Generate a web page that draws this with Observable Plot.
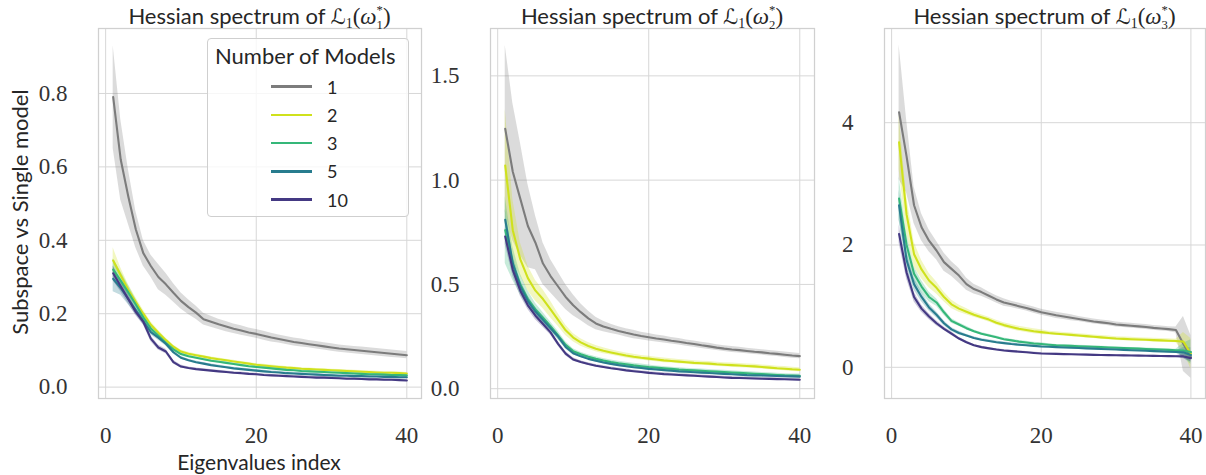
<!DOCTYPE html>
<html>
<head>
<meta charset="utf-8">
<script src="https://cdn.jsdelivr.net/npm/d3@7"></script>
<script src="https://cdn.jsdelivr.net/npm/@observablehq/plot@0.6"></script>
<style>
  html, body { margin: 0; padding: 0; background: #fff; }
  #wrap { position: relative; width: 1206px; height: 475px; overflow: hidden; background: #fff; }
  .panel { position: absolute; top: 0; }
  .title { position: absolute; top: 3px; transform: translateX(-50%); font: 22px Lato, sans-serif; color: #262626; white-space: nowrap; line-height: 1; }
  .m { font-family: "Liberation Serif", serif; font-size: 23px; }
  .cal { font-family: "DejaVu Serif", "DejaVu Sans", serif; font-style: italic; font-size: 21px; }
  .w { font-style: italic; }
  .sb { font-size: 0.6em; vertical-align: -0.3em; line-height: 1.15; }
  .ss { display: inline-block; font-size: 0.55em; line-height: 1.15; vertical-align: -0.4em; }
  .ss span { display: block; }
  .ylab { position: absolute; left: 19px; top: 212px; transform: translate(-50%, -50%) rotate(-90deg); font: 22px Lato, sans-serif; color: #262626; white-space: nowrap; }
  .xlab { position: absolute; left: 259px; top: 450.5px; transform: translateX(-50%); font: 21px Lato, sans-serif; color: #262626; white-space: nowrap; line-height: 1; }
  .legend { position: absolute; left: 207px; top: 38px; width: 202px; height: 179px; border: 1px solid #cfcfcf; border-radius: 4px; background: rgba(255,255,255,0.8); box-sizing: border-box; }
  .legtitle { position: absolute; left: 215px; top: 45px; font: 22px Lato, sans-serif; color: #262626; line-height: 1; white-space: nowrap; }
  .legsw { position: absolute; left: 271px; width: 41px; height: 2.5px; }
  .leglab { position: absolute; left: 327px; font: 18px Lato, sans-serif; color: #262626; line-height: 1; }
</style>
</head>
<body>
<div id="wrap"></div>
<script>
// ---------- data ----------
const eigIndex = [1,2,3,4,5,6,7,8,9,10,11,12,13,14,15,16,17,18,19,20,21,22,23,24,25,26,27,28,29,30,31,32,33,34,35,36,37,38,39,40];
const seriesN = [1, 2, 3, 5, 10];
const seriesColors = ["#7c7c7c", "#cfe11c", "#35b779", "#287c8e", "#443983"];
const panelTitlesSub = ["1", "2", "3"];
const xTicks = [0, 20, 40];
const yTicks1 = [0, 0.2, 0.4, 0.6, 0.8];
const yTicks2 = [0, 0.5, 1.0, 1.5];
const yTicks3 = [0, 2, 4];

// Panel 1: Hessian spectrum of L1(w1*)
const h1_n1 = [0.79,0.62,0.52,0.43,0.365,0.33,0.30,0.28,0.257,0.235, 0.218,0.203,0.185,0.178,0.171,0.165,0.159,0.154,0.149,0.145, 0.140,0.135,0.131,0.127,0.123,0.120,0.117,0.114,0.111,0.108, 0.105,0.103,0.101,0.099,0.097,0.095,0.093,0.091,0.089,0.087];
const h1_n1_ci = [0.14,0.11,0.075,0.05,0.035,0.03,0.035,0.03,0.025,0.022, 0.02,0.018,0.016,0.015,0.014,0.014,0.013,0.013,0.012,0.012, 0.012,0.012,0.011,0.011,0.011,0.011,0.010,0.010,0.010,0.010, 0.010,0.010,0.010,0.010,0.010,0.010,0.010,0.010,0.010,0.010];
const h1_n2 = [0.345,0.305,0.265,0.232,0.2,0.17,0.148,0.128,0.11,0.097, 0.091,0.087,0.083,0.079,0.076,0.073,0.070,0.067,0.064,0.061, 0.059,0.057,0.055,0.053,0.052,0.050,0.049,0.048,0.047,0.046, 0.045,0.044,0.043,0.042,0.041,0.040,0.039,0.039,0.038,0.037];
const h1_n2_ci = [0.035,0.02,0.015,0.012,0.01,0.008,0.007,0.006,0.005,0.004, 0.004,0.003,0.003,0.003,0.003,0.003,0.003,0.003,0.003,0.003, 0.003,0.003,0.003,0.003,0.003,0.003,0.003,0.003,0.003,0.003, 0.003,0.003,0.003,0.003,0.003,0.003,0.003,0.003,0.003,0.003];
const h1_n3 = [0.32,0.29,0.258,0.225,0.19,0.16,0.14,0.12,0.103,0.09, 0.084,0.080,0.076,0.072,0.069,0.066,0.063,0.060,0.057,0.055, 0.053,0.051,0.049,0.047,0.046,0.044,0.043,0.042,0.041,0.040, 0.039,0.038,0.037,0.036,0.035,0.035,0.034,0.033,0.033,0.032];
const h1_n3_ci = [0.03,0.025,0.02,0.015,0.012,0.01,0.008,0.006,0.005,0.004, 0.003,0.003,0.003,0.003,0.003,0.003,0.003,0.003,0.003,0.003, 0.003,0.003,0.003,0.003,0.003,0.003,0.003,0.003,0.003,0.003, 0.003,0.003,0.003,0.003,0.003,0.003,0.003,0.003,0.003,0.003];
const h1_n5 = [0.295,0.27,0.24,0.21,0.18,0.15,0.135,0.118,0.095,0.08, 0.073,0.068,0.064,0.060,0.057,0.054,0.051,0.049,0.047,0.045, 0.043,0.041,0.040,0.038,0.037,0.036,0.035,0.034,0.033,0.032, 0.031,0.031,0.030,0.030,0.029,0.029,0.028,0.028,0.027,0.027];
const h1_n5_ci = [0.035,0.02,0.015,0.012,0.01,0.008,0.007,0.006,0.005,0.004, 0.003,0.003,0.003,0.003,0.003,0.003,0.003,0.003,0.003,0.003, 0.003,0.003,0.003,0.003,0.003,0.003,0.003,0.003,0.003,0.003, 0.003,0.003,0.003,0.003,0.003,0.003,0.003,0.003,0.003,0.003];
const h1_n10 = [0.31,0.275,0.24,0.205,0.178,0.132,0.108,0.097,0.068,0.056, 0.052,0.049,0.047,0.045,0.043,0.041,0.039,0.038,0.036,0.035, 0.033,0.032,0.031,0.030,0.029,0.028,0.027,0.026,0.026,0.025, 0.024,0.023,0.023,0.022,0.021,0.021,0.020,0.020,0.019,0.018];
const h1_n10_ci = [0.02,0.015,0.012,0.01,0.008,0.008,0.007,0.006,0.005,0.004, 0.003,0.003,0.003,0.003,0.003,0.003,0.003,0.003,0.003,0.003, 0.003,0.003,0.003,0.003,0.003,0.003,0.003,0.003,0.003,0.003, 0.003,0.003,0.003,0.003,0.003,0.003,0.003,0.003,0.003,0.003];

// Panel 2: Hessian spectrum of L1(w2*)
const h2_n1 = [1.246,1.04,0.91,0.78,0.70,0.60,0.54,0.49,0.44,0.40, 0.367,0.337,0.313,0.298,0.287,0.277,0.268,0.260,0.253,0.247, 0.241,0.236,0.230,0.225,0.219,0.214,0.208,0.203,0.197,0.192, 0.188,0.185,0.181,0.177,0.174,0.170,0.167,0.163,0.159,0.156];
const h2_n1_ci = [0.40,0.33,0.27,0.2,0.13,0.1,0.08,0.07,0.06,0.05, 0.04,0.035,0.03,0.025,0.022,0.02,0.02,0.02,0.018,0.018, 0.017,0.017,0.016,0.016,0.015,0.015,0.015,0.015,0.014,0.014, 0.014,0.014,0.013,0.013,0.013,0.013,0.013,0.013,0.013,0.013];
const h2_n2 = [1.07,0.76,0.62,0.53,0.47,0.43,0.38,0.33,0.28,0.245, 0.222,0.205,0.192,0.182,0.174,0.166,0.159,0.153,0.148,0.144, 0.140,0.136,0.133,0.130,0.127,0.124,0.122,0.120,0.117,0.115, 0.113,0.111,0.109,0.107,0.104,0.101,0.098,0.096,0.093,0.091];
const h2_n2_ci = [0.27,0.15,0.08,0.06,0.05,0.045,0.04,0.03,0.025,0.02, 0.018,0.016,0.015,0.014,0.013,0.012,0.012,0.012,0.011,0.011, 0.011,0.011,0.010,0.010,0.010,0.010,0.010,0.010,0.010,0.010, 0.010,0.010,0.010,0.010,0.010,0.010,0.010,0.010,0.010,0.010];
const h2_n3 = [0.76,0.60,0.50,0.43,0.38,0.34,0.30,0.255,0.21,0.18, 0.165,0.153,0.143,0.135,0.128,0.122,0.117,0.112,0.108,0.104, 0.101,0.098,0.095,0.092,0.090,0.088,0.086,0.084,0.082,0.080, 0.078,0.076,0.074,0.072,0.070,0.068,0.066,0.064,0.063,0.062];
const h2_n3_ci = [0.16,0.08,0.05,0.04,0.03,0.025,0.02,0.02,0.015,0.012, 0.01,0.01,0.01,0.01,0.01,0.01,0.01,0.01,0.01,0.01, 0.008,0.008,0.008,0.008,0.008,0.008,0.008,0.008,0.008,0.008, 0.008,0.008,0.008,0.008,0.008,0.008,0.008,0.008,0.008,0.008];
const h2_n5 = [0.81,0.60,0.49,0.42,0.37,0.33,0.29,0.25,0.20,0.17, 0.155,0.143,0.134,0.126,0.119,0.113,0.108,0.103,0.099,0.095, 0.092,0.089,0.086,0.083,0.081,0.079,0.077,0.075,0.073,0.071, 0.069,0.067,0.065,0.064,0.063,0.062,0.061,0.060,0.059,0.058];
const h2_n5_ci = [0.05,0.04,0.03,0.025,0.02,0.02,0.015,0.012,0.01,0.008, 0.006,0.006,0.006,0.006,0.006,0.006,0.006,0.006,0.006,0.006, 0.006,0.006,0.006,0.006,0.006,0.006,0.006,0.006,0.006,0.006, 0.006,0.006,0.006,0.006,0.006,0.006,0.006,0.006,0.006,0.006];
const h2_n10 = [0.73,0.57,0.47,0.40,0.35,0.31,0.27,0.215,0.168,0.14, 0.128,0.118,0.110,0.104,0.098,0.093,0.088,0.084,0.080,0.076, 0.073,0.070,0.068,0.066,0.064,0.062,0.060,0.058,0.056,0.054, 0.052,0.051,0.050,0.049,0.048,0.047,0.046,0.045,0.044,0.043];
const h2_n10_ci = [0.04,0.03,0.025,0.02,0.02,0.015,0.012,0.01,0.01,0.008, 0.006,0.006,0.006,0.006,0.006,0.006,0.006,0.006,0.006,0.006, 0.006,0.006,0.006,0.006,0.006,0.006,0.006,0.006,0.006,0.006, 0.006,0.006,0.006,0.006,0.006,0.006,0.006,0.006,0.006,0.006];

// Panel 3: Hessian spectrum of L1(w3*)
const h3_n1 = [4.17,3.45,2.65,2.29,2.07,1.91,1.72,1.61,1.50,1.36, 1.28,1.23,1.17,1.11,1.06,1.03,1.00,0.97,0.935,0.90, 0.875,0.85,0.83,0.81,0.79,0.77,0.75,0.735,0.72,0.70, 0.69,0.68,0.67,0.66,0.645,0.635,0.625,0.61,0.38,0.17];
const h3_n1_ci = [1.1,0.6,0.3,0.22,0.18,0.15,0.15,0.12,0.12,0.1, 0.08,0.07,0.06,0.06,0.06,0.05,0.05,0.05,0.05,0.05, 0.05,0.05,0.05,0.05,0.04,0.04,0.04,0.04,0.04,0.04, 0.04,0.04,0.04,0.04,0.04,0.04,0.04,0.05,0.45,0.35];
const h3_n2 = [3.68,2.5,1.85,1.6,1.42,1.3,1.15,1.03,0.96,0.91, 0.86,0.82,0.78,0.73,0.69,0.66,0.63,0.61,0.59,0.575, 0.56,0.55,0.54,0.53,0.52,0.51,0.50,0.49,0.48,0.47, 0.465,0.46,0.455,0.45,0.445,0.44,0.435,0.43,0.42,0.22];
const h3_n2_ci = [0.45,0.3,0.2,0.15,0.12,0.1,0.08,0.07,0.06,0.05, 0.04,0.04,0.04,0.04,0.04,0.04,0.04,0.04,0.04,0.04, 0.03,0.03,0.03,0.03,0.03,0.03,0.03,0.03,0.03,0.03, 0.03,0.03,0.03,0.03,0.03,0.03,0.03,0.03,0.15,0.25];
const h3_n3 = [2.76,2.0,1.53,1.32,1.15,1.06,0.9,0.76,0.70,0.64, 0.59,0.55,0.52,0.49,0.46,0.44,0.42,0.405,0.39,0.38, 0.37,0.36,0.355,0.35,0.345,0.34,0.335,0.33,0.325,0.32, 0.315,0.31,0.305,0.30,0.295,0.29,0.285,0.28,0.275,0.25];
const h3_n3_ci = [0.35,0.2,0.12,0.1,0.08,0.06,0.05,0.04,0.03,0.03, 0.02,0.02,0.02,0.02,0.02,0.02,0.02,0.02,0.02,0.02, 0.015,0.015,0.015,0.015,0.015,0.015,0.015,0.015,0.015,0.015, 0.015,0.015,0.015,0.015,0.015,0.015,0.015,0.015,0.12,0.2];
const h3_n5 = [2.65,1.75,1.36,1.15,0.98,0.86,0.72,0.62,0.56,0.52, 0.48,0.45,0.43,0.41,0.395,0.38,0.37,0.36,0.35,0.34, 0.335,0.33,0.325,0.32,0.315,0.31,0.305,0.30,0.295,0.29, 0.285,0.28,0.275,0.27,0.265,0.26,0.255,0.25,0.245,0.2];
const h3_n5_ci = [0.25,0.15,0.1,0.08,0.06,0.05,0.04,0.03,0.03,0.02, 0.02,0.02,0.02,0.02,0.02,0.02,0.02,0.02,0.02,0.02, 0.015,0.015,0.015,0.015,0.015,0.015,0.015,0.015,0.015,0.015, 0.015,0.015,0.015,0.015,0.015,0.015,0.015,0.015,0.08,0.12];
const h3_n10 = [2.18,1.55,1.15,0.96,0.83,0.72,0.63,0.55,0.47,0.41, 0.36,0.33,0.31,0.29,0.275,0.265,0.255,0.245,0.235,0.225, 0.222,0.219,0.216,0.213,0.21,0.207,0.204,0.201,0.199,0.197, 0.195,0.193,0.191,0.189,0.187,0.185,0.183,0.181,0.178,0.15];
const h3_n10_ci = [0.15,0.1,0.08,0.06,0.05,0.04,0.03,0.03,0.02,0.02, 0.015,0.015,0.015,0.015,0.015,0.015,0.015,0.015,0.015,0.015, 0.01,0.01,0.01,0.01,0.01,0.01,0.01,0.01,0.01,0.01, 0.01,0.01,0.01,0.01,0.01,0.01,0.01,0.01,0.04,0.06];

// ---------- build tables ----------
function table(means, cis) {
  const rows = [];
  seriesN.forEach((n, k) => {
    eigIndex.forEach((i, j) => {
      rows.push({i, n, mean: means[k][j], lo: means[k][j] - cis[k][j], hi: means[k][j] + cis[k][j]});
    });
  });
  return rows;
}
const rows1 = table([h1_n1, h1_n2, h1_n3, h1_n5, h1_n10], [h1_n1_ci, h1_n2_ci, h1_n3_ci, h1_n5_ci, h1_n10_ci]);
const rows2 = table([h2_n1, h2_n2, h2_n3, h2_n5, h2_n10], [h2_n1_ci, h2_n2_ci, h2_n3_ci, h2_n5_ci, h2_n10_ci]);
const rows3 = table([h3_n1, h3_n2, h3_n3, h3_n5, h3_n10], [h3_n1_ci, h3_n2_ci, h3_n3_ci, h3_n5_ci, h3_n10_ci]);

function makePanel(rows, yDomain, yTicks, fmt, width, marginLeft, marginRight) {
  return Plot.plot({
    width, height: 475, marginLeft, marginRight, marginTop: 28, marginBottom: 77,
    style: {fontFamily: "'Liberation Serif', serif", fontSize: "23px", color: "#333", background: "transparent", overflow: "visible"},
    x: {domain: [-0.95, 41.95]},
    y: {domain: yDomain},
    color: {type: "ordinal", domain: seriesN, range: seriesColors},
    marks: [
      Plot.gridX(xTicks, {stroke: "#d7d7d7", strokeOpacity: 1, strokeWidth: 1}),
      Plot.gridY(yTicks, {stroke: "#d7d7d7", strokeOpacity: 1, strokeWidth: 1}),
      Plot.frame({stroke: "#d0d0d0", strokeWidth: 1.25}),
      Plot.areaY(rows, {x: "i", y1: "lo", y2: "hi", z: "n", fill: "n", fillOpacity: 0.28}),
      Plot.lineY(rows, {x: "i", y: "mean", z: "n", stroke: "n", strokeWidth: 2.1}),
      Plot.axisX(xTicks, {tickSize: 0, tickPadding: 28, label: null, fontSize: 23}),
      Plot.axisY(yTicks, {tickSize: 0, tickPadding: 31, tickFormat: fmt, label: null, fontSize: 23})
    ]
  });
}

const wrap = document.getElementById("wrap");
const panels = [
  {left: 0, svg: makePanel(rows1, [-0.031, 0.977], yTicks1, d3.format(".1f"), 423, 98, 2), center: 259.5},
  {left: 430, svg: makePanel(rows2, [-0.047, 1.727], yTicks2, d3.format(".1f"), 386, 60, 2), center: 652},
  {left: 820, svg: makePanel(rows3, [-0.51, 5.54], yTicks3, d3.format("d"), 386, 64, 1), center: 1044.5}
];
panels.forEach((p, k) => {
  const div = document.createElement("div");
  div.className = "panel";
  div.style.left = p.left + "px";
  div.appendChild(p.svg);
  wrap.appendChild(div);
  const t = document.createElement("div");
  t.className = "title";
  t.style.left = p.center + "px";
  t.innerHTML = 'Hessian spectrum of <span class="m"><span class="cal">ℒ</span><span class="sb">1</span>(<span class="w">ω</span><span class="ss"><span>*</span><span>' + panelTitlesSub[k] + '</span></span>)</span>';
  wrap.appendChild(t);
});

// axis labels
const yl = document.createElement("div");
yl.className = "ylab"; yl.textContent = "Subspace vs Single model";
wrap.appendChild(yl);
const xl = document.createElement("div");
xl.className = "xlab"; xl.textContent = "Eigenvalues index";
wrap.appendChild(xl);

// legend
const lg = document.createElement("div");
lg.className = "legend";
wrap.appendChild(lg);
const lt = document.createElement("div");
lt.className = "legtitle"; lt.textContent = "Number of Models";
wrap.appendChild(lt);
seriesN.forEach((n, k) => {
  const cy = 86.7 + k * 28.2;
  const sw = document.createElement("div");
  sw.className = "legsw";
  sw.style.top = (cy - 1.25) + "px";
  sw.style.background = seriesColors[k];
  wrap.appendChild(sw);
  const lb = document.createElement("div");
  lb.className = "leglab";
  lb.style.top = (cy - 9) + "px";
  lb.textContent = String(n);
  wrap.appendChild(lb);
});
</script>
</body>
</html>
